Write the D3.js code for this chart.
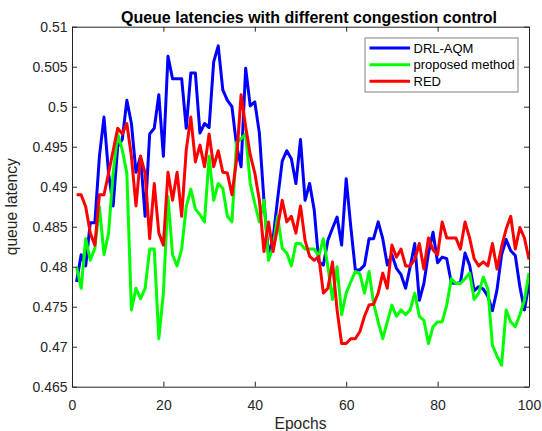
<!DOCTYPE html>
<html><head><meta charset="utf-8">
<script src="https://cdn.jsdelivr.net/npm/d3@7"></script>
<style>body{margin:0;background:#fff}svg{display:block}</style>
</head><body>
<svg id="chart" width="542" height="431"></svg>
<script>
const epochs = [1,2,3,4,5,6,7,8,9,10,11,12,13,14,15,16,17,18,19,20,
21,22,23,24,25,26,27,28,29,30,31,32,33,34,35,36,37,38,39,40,
41,42,43,44,45,46,47,48,49,50,51,52,53,54,55,56,57,58,59,60,
61,62,63,64,65,66,67,68,69,70,71,72,73,74,75,76,77,78,79,80,
81,82,83,84,85,86,87,88,89,90,91,92,93,94,95,96,97,98,99,100];

const drlAqm = [0.4781,0.4815,0.4801,0.4855,0.4855,0.4938,0.4987,0.4917,0.4876,0.4950,
0.4959,0.5008,0.4979,0.4918,0.4938,0.4863,0.4966,0.4973,0.5015,0.4938,
0.5063,0.5035,0.5035,0.5035,0.4973,0.5042,0.5042,0.4967,0.4979,0.4974,
0.5056,0.5076,0.5021,0.5008,0.5000,0.4952,0.4925,0.5048,0.5001,0.5006,
0.4967,0.4883,0.4815,0.4835,0.4885,0.4932,0.4945,0.4935,0.4904,0.4959,
0.4883,0.4904,0.4871,0.4806,0.4802,0.4833,0.4848,0.4862,0.4827,0.4910,
0.4850,0.4796,0.4796,0.4802,0.4835,0.4835,0.4856,0.4835,0.4802,0.4815,
0.4798,0.4790,0.4773,0.4800,0.4829,0.4758,0.4779,0.4817,0.4843,0.4805,
0.4812,0.4810,0.4780,0.4779,0.4780,0.4817,0.4802,0.4770,0.4775,0.4772,
0.4763,0.4745,0.4771,0.4815,0.4834,0.4820,0.4814,0.4775,0.4746,0.4779];

const proposedMethod = [0.4800,0.4773,0.4835,0.4808,0.4823,0.4875,0.4815,0.4842,0.4917,0.4966,
0.4946,0.4917,0.4746,0.4773,0.4760,0.4773,0.4822,0.4822,0.4710,0.4767,
0.4888,0.4815,0.4801,0.4822,0.4875,0.4897,0.4872,0.4865,0.4856,0.4938,
0.4883,0.4904,0.4898,0.4863,0.4856,0.4955,0.4960,0.4966,0.4904,0.4879,
0.4856,0.4883,0.4808,0.4825,0.4863,0.4823,0.4817,0.4801,0.4829,0.4829,
0.4822,0.4822,0.4822,0.4813,0.4835,0.4800,0.4759,0.4800,0.4740,0.4767,
0.4781,0.4794,0.4791,0.4767,0.4794,0.4754,0.4731,0.4710,0.4731,0.4752,
0.4738,0.4746,0.4740,0.4746,0.4767,0.4738,0.4733,0.4704,0.4725,0.4731,
0.4731,0.4752,0.4785,0.4779,0.4779,0.4785,0.4792,0.4759,0.4767,0.4787,
0.4772,0.4702,0.4688,0.4677,0.4746,0.4731,0.4725,0.4740,0.4758,0.4792];

const redValues = [0.4890,0.4890,0.4875,0.4842,0.4827,0.4890,0.4890,0.4917,0.4945,0.4973,
0.4966,0.4979,0.4938,0.4876,0.4938,0.4917,0.4835,0.4904,0.4842,0.4827,
0.4918,0.4883,0.4918,0.4863,0.4946,0.4987,0.4931,0.4952,0.4925,0.4966,
0.4925,0.4945,0.4918,0.4917,0.4890,0.4933,0.5015,0.4975,0.4940,0.4917,
0.4883,0.4819,0.4856,0.4819,0.4850,0.4883,0.4856,0.4863,0.4842,0.4876,
0.4833,0.4813,0.4808,0.4813,0.4767,0.4773,0.4806,0.4746,0.4704,0.4704,
0.4710,0.4710,0.4719,0.4738,0.4752,0.4753,0.4767,0.4792,0.4773,0.4827,
0.4812,0.4822,0.4801,0.4801,0.4809,0.4829,0.4797,0.4836,0.4821,0.4815,
0.4856,0.4836,0.4836,0.4836,0.4822,0.4856,0.4836,0.4810,0.4801,0.4806,
0.4801,0.4829,0.4797,0.4825,0.4847,0.4863,0.4822,0.4849,0.4836,0.4809];

const seriesNames = ["DRL-AQM", "proposed method", "RED"];
const seriesColors = ["#0000ff", "#00ff00", "#ff0000"];
const xTicks = [0, 20, 40, 60, 80, 100];
const xTickLabels = ["0", "20", "40", "60", "80", "100"];
const yTicks = [0.465, 0.47, 0.475, 0.48, 0.485, 0.49, 0.495, 0.5, 0.505, 0.51];
const yTickLabels = ["0.465", "0.47", "0.475", "0.48", "0.485", "0.49", "0.495", "0.5", "0.505", "0.51"];
const titleText = "Queue latencies with different congestion control";
const xLabelText = "Epochs";
const yLabelText = "queue latency";

const FONT = "'Liberation Sans', Arial, Helvetica, sans-serif";
const INK = "#262626";
const L = 72, R = 529, T = 26.7, B = 386.7;

const svg = d3.select("#chart");
svg.append("rect").attr("width", 542).attr("height", 431).attr("fill", "#fff");

const x = d3.scaleLinear().domain([0, 100]).range([L, R]);
const y = d3.scaleLinear().domain([0.465, 0.51]).range([B, T]);

svg.append("defs").append("clipPath").attr("id", "plotclip")
  .append("rect").attr("x", L).attr("y", T).attr("width", R - L).attr("height", B - T);

const seriesData = [drlAqm, proposedMethod, redValues];
const line = d3.line().x((d, i) => x(epochs[i])).y(d => y(d));

const plot = svg.append("g").attr("clip-path", "url(#plotclip)");
seriesData.forEach((vals, k) => {
  plot.append("path").datum(vals)
    .attr("d", line)
    .attr("fill", "none")
    .attr("stroke", seriesColors[k])
    .attr("stroke-width", 3)
    .attr("stroke-linejoin", "round")
    .attr("stroke-linecap", "butt");
});

function styleAxis(g) {
  g.selectAll("path.domain").attr("stroke", INK).attr("stroke-width", 1);
  g.selectAll(".tick line").attr("stroke", INK).attr("stroke-width", 1);
  g.selectAll(".tick text").attr("fill", INK).attr("font-family", FONT).attr("font-size", 14);
}

const xAxis = svg.append("g").attr("transform", `translate(0,${B})`)
  .call(d3.axisBottom(x).tickValues(xTicks).tickFormat((d, i) => xTickLabels[i])
    .tickSizeInner(-5).tickSizeOuter(0).tickPadding(13.4));
styleAxis(xAxis);

const xAxisTop = svg.append("g").attr("transform", `translate(0,${T})`)
  .call(d3.axisTop(x).tickValues(xTicks).tickFormat("").tickSizeInner(-5).tickSizeOuter(0));
styleAxis(xAxisTop);

const yAxis = svg.append("g").attr("transform", `translate(${L},0)`)
  .call(d3.axisLeft(y).tickValues(yTicks).tickFormat((d, i) => yTickLabels[i])
    .tickSizeInner(-5).tickSizeOuter(0).tickPadding(4.5));
styleAxis(yAxis);

const yAxisRight = svg.append("g").attr("transform", `translate(${R},0)`)
  .call(d3.axisRight(y).tickValues(yTicks).tickFormat("").tickSizeInner(-5).tickSizeOuter(0));
styleAxis(yAxisRight);

svg.append("text").attr("x", 309).attr("y", 23)
  .attr("text-anchor", "middle").attr("font-family", FONT)
  .attr("font-size", 16).attr("font-weight", "bold").attr("fill", "#000")
  .text(titleText);

svg.append("text").attr("x", (L + R) / 2).attr("y", 429)
  .attr("text-anchor", "middle").attr("font-family", FONT)
  .attr("font-size", 15.6).attr("fill", INK).text(xLabelText);

svg.append("text").attr("transform", `translate(17,${(T + B) / 2}) rotate(-90)`)
  .attr("text-anchor", "middle").attr("font-family", FONT)
  .attr("font-size", 15.6).attr("fill", INK).text(yLabelText);

// Legend
const lg = svg.append("g");
lg.append("rect").attr("x", 365).attr("y", 38).attr("width", 153).attr("height", 54)
  .attr("fill", "#fff").attr("stroke", "#808080").attr("stroke-width", 1);
const rowY = [48, 64.7, 81.3];
seriesNames.forEach((name, k) => {
  lg.append("line").attr("x1", 369.5).attr("x2", 410).attr("y1", rowY[k]).attr("y2", rowY[k])
    .attr("stroke", seriesColors[k]).attr("stroke-width", 3);
  lg.append("text").attr("x", 413.5).attr("y", rowY[k]).attr("dy", "0.35em")
    .attr("font-family", FONT).attr("font-size", 13).attr("fill", "#000").text(name);
});
</script>
</body></html>
